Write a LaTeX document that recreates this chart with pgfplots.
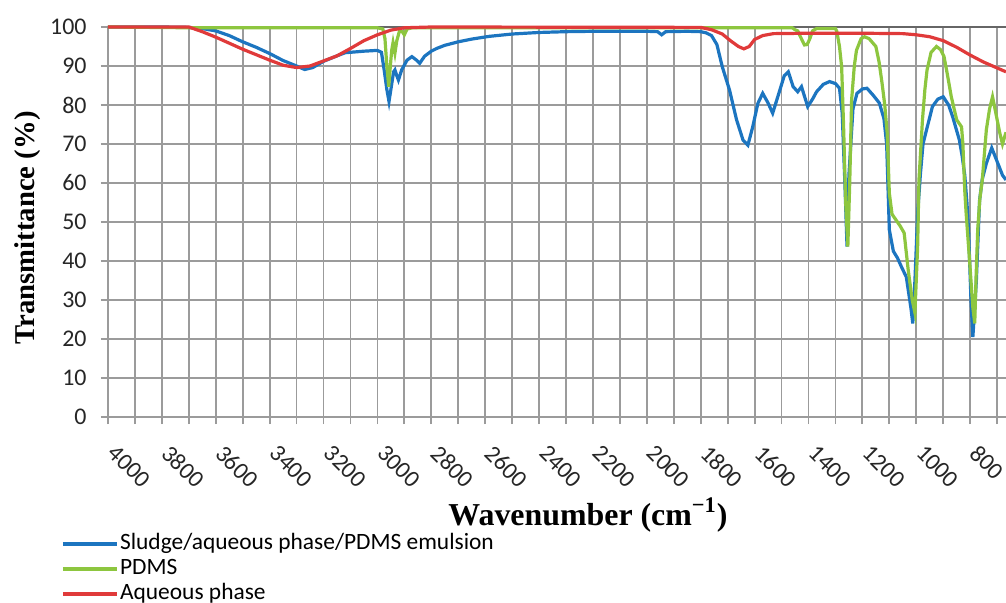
\documentclass[border=0pt]{standalone}
\usepackage{fontspec}
\setmainfont{Carlito}
\newfontfamily\serifb{Liberation Serif}
\usepackage{pgfplots}
\pgfplotsset{compat=1.18}
\definecolor{cblue}{RGB}{28,117,192}
\definecolor{cgreen}{RGB}{141,198,63}
\definecolor{cred}{RGB}{224,58,58}
\definecolor{gridc}{RGB}{155,155,155}
\begin{document}
\begin{tikzpicture}
\begin{axis}[
  at={(0,0)}, anchor=south west,
  scale only axis, width=449bp, height=195bp,
  x dir=reverse, xmin=667, xmax=4000, ymin=0, ymax=100,
  xtick={800,1000,...,4000}, minor xtick={700,900,...,3900},
  ytick={0,10,...,100},
  grid=both,
  major grid style={gridc, line width=0.9bp},
  minor grid style={gridc, line width=0.9bp},
  axis x line*=bottom, axis y line*=left,
  axis line style={gridc, line width=0.9bp},
  tick style={gridc, line width=0.9bp},
  tick align=outside, major tick length=3.5bp, minor tick length=3.5bp,
  /pgf/number format/assume math mode=true,
  /pgf/number format/set thousands separator={},
  ticklabel style={font=\fontsize{12}{14}\selectfont, text=black!85},
  xticklabel style={rotate=-45, anchor=north west, inner sep=0pt, xshift=10.25bp, yshift=-3.2bp},
  yticklabel style={anchor=east, inner sep=0pt, xshift=-7bp},
  xlabel={Wavenumber (cm\textsuperscript{−1})},
  ylabel={Transmittance (\%)},
  xlabel style={at={(axis description cs:0.5345,0)}, anchor=center, yshift=-49bp, font=\serifb\bfseries\fontsize{16}{18}\selectfont},
  ylabel style={at={(axis description cs:0,0.485)}, anchor=center, yshift=40bp, font=\serifb\bfseries\fontsize{14.4}{16}\selectfont},
  clip=false,
  legend style={at={(axis description cs:0,0)}, anchor=north west, xshift=-23.5bp, yshift=-57bp,
    draw=none, fill=none, inner sep=0pt, row sep=0pt,
    font=\fontsize{11.75}{13}\selectfont,
    nodes={inner sep=0.75bp, text height=8.5bp, text depth=2.5bp}},
  legend cell align=left,
  legend image code/.code={\draw[#1] (0bp,0bp) -- (27bp,0bp);},
]
\draw[black!60, line width=0.9bp] (rel axis cs:0,1) -- (rel axis cs:1,1);
\addplot[cblue, line width=1.6bp] coordinates {
(4000,100) (3800,100) (3700,99.9) (3650,99.6) (3600,99.0) (3550,97.8) (3500,96.2)
(3450,94.8) (3400,93.2) (3350,91.4) (3300,90.0) (3270,89.1) (3240,89.6) (3200,91.2)
(3150,92.6) (3120,93.4) (3050,93.8) (3000,94.0) (2985,93.5) (2975,89) (2965,84)
(2957,80.9) (2950,84) (2940,88.5) (2935,89) (2928,87.5) (2922,86.4) (2910,89)
(2890,91.5) (2872,92.4) (2855,91.5) (2843,90.7) (2825,92.5) (2800,93.8) (2780,94.5)
(2750,95.3) (2700,96.2) (2650,96.9) (2585,97.6) (2500,98.2) (2400,98.6) (2300,98.8)
(2200,98.9) (2100,98.9) (2000,98.9) (1960,98.8) (1945,98.0) (1930,98.8) (1850,98.9)
(1800,98.8) (1780,98.5) (1760,97.8) (1740,95.5) (1720,89.8) (1693,83.8) (1667,76.2)
(1643,71) (1625,69.7) (1607,74.4) (1588,80.4) (1570,83) (1550,80.5) (1533,77.9)
(1510,83) (1490,87.5) (1475,88.5) (1457,84.7) (1440,83.4) (1426,84.7) (1403,79.6)
(1385,81.5) (1370,83.4) (1345,85.3) (1322,86) (1300,85.5) (1285,84.3) (1275,78)
(1265,60) (1257,43.7) (1250,62) (1235,79) (1220,83) (1200,84.1) (1183,84.3)
(1160,82.5) (1137,80.5) (1120,76.5) (1110,70) (1100,48) (1085,42.5) (1070,40.8)
(1055,38.5) (1037,35.9) (1020,28) (1013,24) (1005,35) (995,52) (985,62) (975,70)
(962,73.6) (940,79.6) (920,81.5) (900,82.1) (880,80) (865,77) (840,71) (830,67)
(820,62) (812,55) (806,48) (797,30) (790,20.5) (783,28) (777,35) (765,55.6)
(755,61) (740,65) (720,69) (697,65) (680,62) (667,60.8)
};
\addlegendentry{Sludge/aqueous phase/PDMS emulsion}
\addplot[cgreen, line width=1.6bp] coordinates {
(4000,100) (3700,99.8) (3000,99.8) (2980,99.5) (2972,97) (2965,90) (2958,84.7)
(2952,90) (2947,94) (2942,96) (2935,93.3) (2928,96.5) (2918,99) (2908,98.8)
(2900,98) (2890,99.5) (2870,99.8) (1460,99.8) (1450,99.3) (1440,99) (1430,97.5)
(1415,95.4) (1405,95.5) (1395,97) (1385,99) (1370,99.6) (1300,99.6) (1295,98.9)
(1285,95) (1277,89.8) (1270,75) (1262,55) (1254,43.7) (1247,60) (1240,81.3)
(1230,90) (1222,94) (1205,97) (1192,97.5) (1175,97) (1150,95) (1138,91)
(1127,85.6) (1117,80) (1108,72.8) (1100,57.4) (1090,52) (1075,50.5) (1060,49)
(1045,47.2) (1030,37.7) (1015,30) (1005,26.7) (995,43.6) (990,60.8) (977,76.2)
(968,84) (960,89) (945,93.5) (925,95) (910,94.2) (897,92.4) (885,88) (870,82.1)
(850,76.2) (832,74.4) (827,70) (820,58) (815,52.3) (800,38) (790,28) (783,24)
(778,36) (772,48) (764,56) (755,60.8) (740,73.6) (728,79) (717,82.1) (705,78)
(690,72.8) (680,70) (667,73)
};
\addlegendentry{PDMS}
\addplot[cred, line width=1.6bp] coordinates {
(4000,100) (3700,100) (3650,98.8) (3600,97.4) (3500,94.3) (3400,91.5) (3350,90.2)
(3300,89.6) (3250,90.0) (3200,91.3) (3150,92.6) (3100,94.5) (3050,96.5) (3000,98)
(2950,99.2) (2900,99.8) (2800,100) (1800,99.9) (1760,99.3) (1720,98.2) (1690,96.5)
(1660,95) (1640,94.4) (1620,95) (1600,96.8) (1570,97.8) (1530,98.3) (1400,98.4)
(1200,98.4) (1050,98.3) (1000,98) (950,97.5) (900,96.5) (850,94.8) (800,92.8)
(750,91) (700,89.5) (667,88.5)
};
\addlegendentry{Aqueous phase}
\end{axis}
\pgfresetboundingbox
\useasboundingbox (-54bp,-93bp) rectangle (449bp,208.5bp);
\end{tikzpicture}
\end{document}
